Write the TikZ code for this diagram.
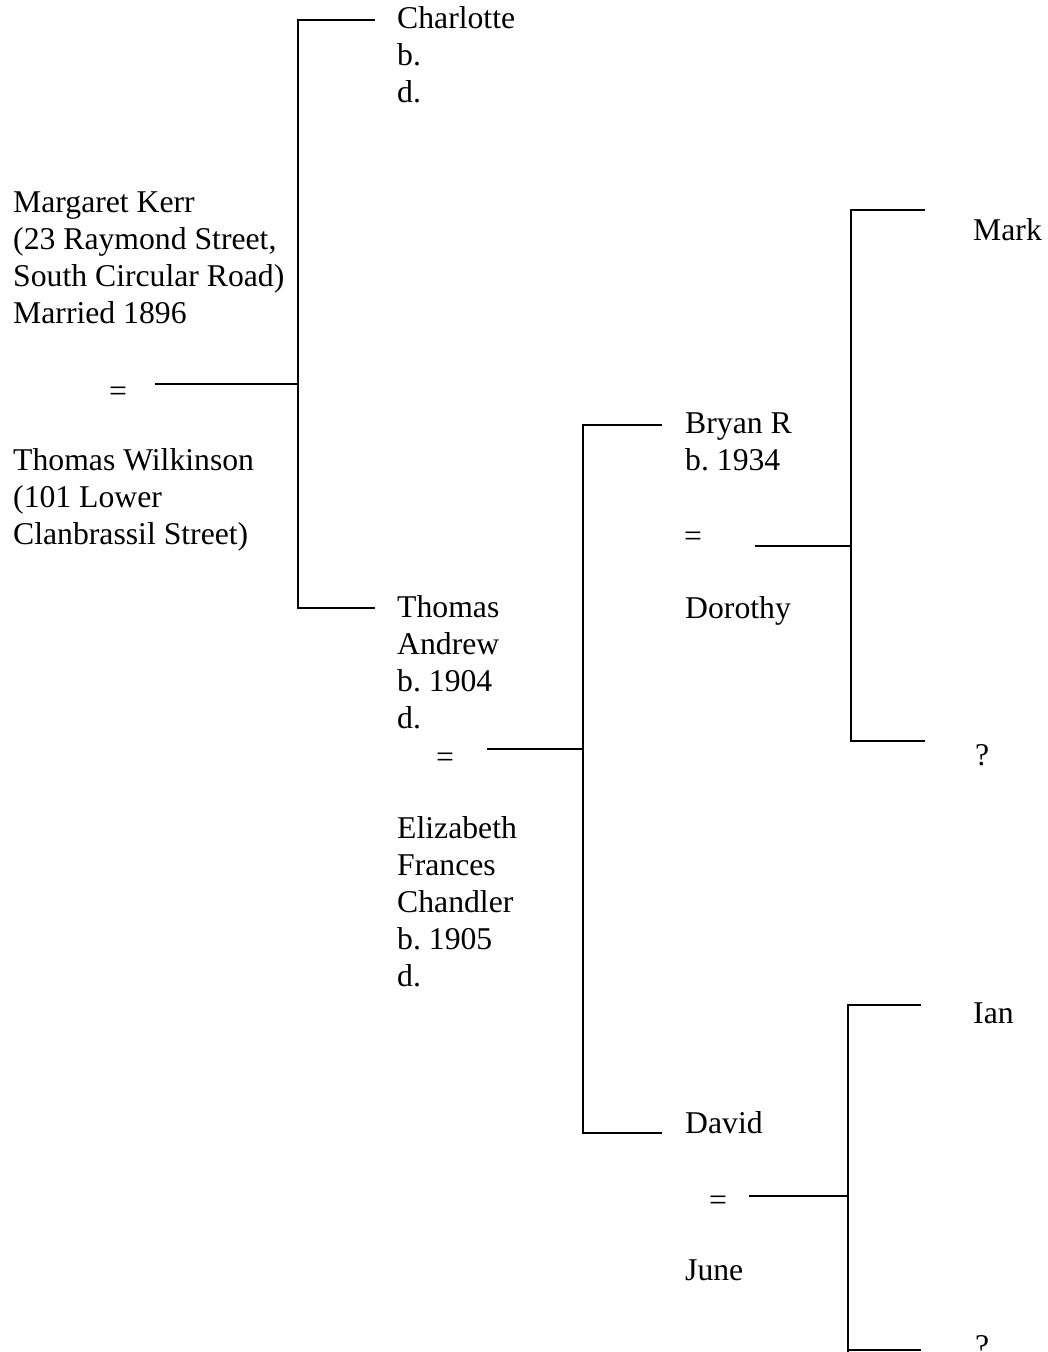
\documentclass[tikz,border=0pt]{standalone}
\usepackage{fontspec}
\setmainfont{Liberation Serif}
\frenchspacing
\usetikzlibrary{positioning}
\tikzset{
  ln/.style={line width=1.7pt,black},
  pers/.style={anchor=base west,align=left,inner sep=0pt,font=\fontsize{31.7}{37}\selectfont},
  eqs/.style={anchor=base,inner sep=0pt,font=\fontsize{31.7}{37}\selectfont}
}

\begin{document}
\begin{tikzpicture}[x=1pt,y=-1pt]
\useasboundingbox (0,0) rectangle (1048,1352);
% generation 1 (multi-line nodes sit on their last line)
\node[pers] (margaret) at (13,323) {Margaret Kerr\\(23 Raymond Street,\\South Circular Road)\\Married 1896};
\node[eqs] (eq1) at (118,401) {=};
\node[pers] (wilkinson) at (13,544) {Thomas Wilkinson\\(101 Lower\\Clanbrassil Street)};
\coordinate (m1) at (155,384);
\coordinate (b1) at (298,384);
\coordinate (b1t) at (298,20);
\coordinate (b1b) at (298,608);
\coordinate (k1t) at (375,20);
\coordinate (k1b) at (375,608);
% generation 2
\node[pers] (charlotte) at (397,102) {Charlotte\\b.\\d.};
\node[pers] (thomas) at (397,728) {Thomas\\Andrew\\b. 1904\\d.};
\node[eqs] (eq2) at (445,767) {=};
\node[pers] (elizabeth) at (397,986) {Elizabeth\\Frances\\Chandler\\b. 1905\\d.};
\coordinate (m2) at (487,749);
\coordinate (b2) at (583,749);
\coordinate (b2t) at (583,425);
\coordinate (b2b) at (583,1133);
\coordinate (k2t) at (662,425);
\coordinate (k2b) at (662,1133);
% generation 3
\node[pers] (bryan) at (685,470) {Bryan R\\b. 1934};
\node[eqs] (eq3) at (693,546) {=};
\node[pers] (dorothy) at (685,618) {Dorothy};
\node[pers] (david) at (685,1133) {David};
\node[eqs] (eq4) at (718,1210) {=};
\node[pers] (june) at (685,1280) {June};
\coordinate (m3) at (755,546);
\coordinate (b3) at (851,546);
\coordinate (b3t) at (851,210);
\coordinate (b3b) at (851,741);
\coordinate (k3t) at (925,210);
\coordinate (k3b) at (925,741);
\coordinate (m4) at (749,1196);
\coordinate (b4) at (848,1196);
\coordinate (b4t) at (848,1005);
\coordinate (b4b) at (848,1352);
\coordinate (k4t) at (921,1005);
\coordinate (k4b) at (921,1350);
% generation 4
\node[pers] (mark) at (973,240) {Mark};
\node[pers] (unk1) at (975,765) {?};
\node[pers] (ian) at (973,1023) {Ian};
\node[pers] (unk2) at (975,1356) {?};
% brackets
\draw[ln] (m1) -- (b1);
\draw[ln] (k1t) -- (b1t) -- (b1b) -- (k1b);
\draw[ln] (m2) -- (b2);
\draw[ln] (k2t) -- (b2t) -- (b2b) -- (k2b);
\draw[ln] (m3) -- (b3);
\draw[ln] (k3t) -- (b3t) -- (b3b) -- (k3b);
\draw[ln] (m4) -- (b4);
\draw[ln] (k4t) -- (b4t) -- (b4b);
\draw[ln] (b4b |- k4b) -- (k4b);
\end{tikzpicture}
\end{document}
